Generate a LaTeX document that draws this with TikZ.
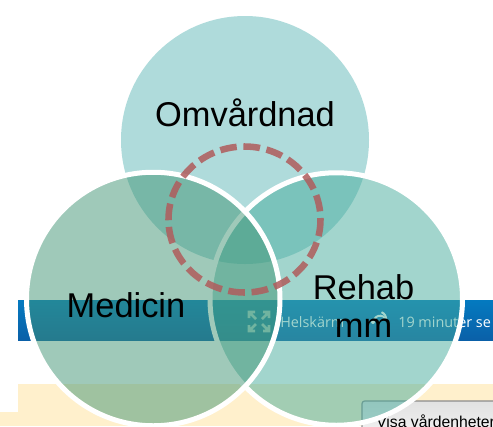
\documentclass[tikz,border=0pt]{standalone}
\usepackage{fontspec}
\setmainfont{Liberation Sans}
\newfontfamily\uifont{Open Sans}
\definecolor{topc}{RGB}{97,185,185}
\definecolor{leftc}{RGB}{65,149,117}
\definecolor{rightc}{RGB}{70,172,156}
\definecolor{cream}{RGB}{255,240,204}
\definecolor{ringc}{RGB}{176,92,92}
\tikzset{
  px/.style={x=0.75pt,y=-0.75pt},
  venn/.style={fill opacity=0.5,draw=white,draw opacity=1,line width=3.75pt},
  lab/.style={font=\fontsize{25.8pt}{28pt}\selectfont,text=black,inner sep=0,align=center},
  uitext/.style={font=\uifont\fontsize{10.8pt}{12pt}\selectfont,text=white,inner sep=0,anchor=west},
}
\begin{document}
\begin{tikzpicture}[px]
\useasboundingbox (0,0) rectangle (493,426);
\fill[white] (0,0) rectangle (493,426);
% background screenshot
\fill[top color={rgb,255:red,4;green,122;blue,192},bottom color={rgb,255:red,10;green,96;blue,168}] (18,300) rectangle (493,340);
\fill[cream] (18,384) rectangle (493,426);
\fill[cream] (0,412) rectangle (18,426);
\node[uitext] (hk) at (280,322) {Helskärm};
\node[uitext] (min) at (398,322) {19 minuter se};
\draw[white,line width=1.5pt] (385,318) arc[start angle=-40,end angle=-160,radius=6.5];
\draw[white,line width=1.5pt] (386,320) arc[start angle=10,end angle=-70,radius=7];
\fill[white] (373,322) circle[radius=2];
\draw[white,line width=2pt]
  (249,318) -- (249,312) -- (255,312) (249,312) -- (256,319)
  (263,312) -- (269,312) -- (269,318) (269,312) -- (262,319)
  (249,325) -- (249,331) -- (255,331) (249,331) -- (256,324)
  (263,331) -- (269,331) -- (269,325) (269,331) -- (262,324);
\draw[draw={rgb,255:red,140;green,140;blue,140},top color={rgb,255:red,225;green,225;blue,225},bottom color={rgb,255:red,245;green,245;blue,245},line width=0.9pt,rounded corners=2pt] (362,401) rectangle (505,440);
\node[font=\fontsize{11.8pt}{12pt}\selectfont,inner sep=0,anchor=west] (visa) at (376,421) {Visa vårdenheter};
% circles
\fill[topc,fill opacity=0.5] (245,140) circle[radius=124];
\draw[venn,fill=rightc] (336.25,299) circle[radius=126.25];
\draw[venn,fill=leftc] (153.25,299) circle[radius=126.75];
\draw[ringc,draw opacity=0.85,line width=4.9pt,dash pattern=on 12.5pt off 5pt] (244.5,219.5) ellipse[x radius=76,y radius=73];
\node[lab] (omv) at (245,113) {Omvårdnad};
\node[lab] (med) at (126,305) {Medicin};
\node[lab] (reh) at (363.5,306) {Rehab\\mm};
\end{tikzpicture}
\end{document}
